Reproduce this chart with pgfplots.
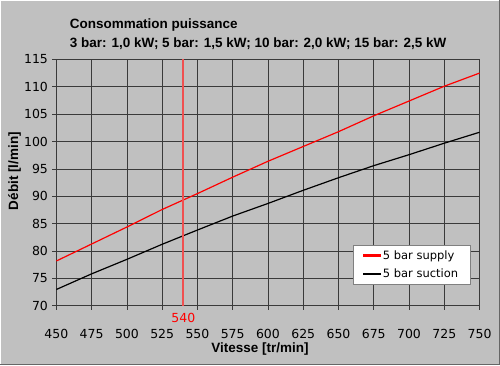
\documentclass[border=0pt]{standalone}
\usepackage{pgfplots}
\pgfplotsset{compat=1.18}
\usepackage{fontspec}
\setmainfont{DejaVu Sans}
\newfontfamily\arialfont{Liberation Sans}
\definecolor{bgc}{HTML}{C0C0C0}
\definecolor{gridc}{HTML}{3A3A3A}
\definecolor{vred}{HTML}{F05050}
\begin{document}
\begin{tikzpicture}[x=1bp,y=1bp]
\fill[bgc] (0,0) rectangle (500,365);
\draw[white,line width=1bp] (0.5,0) -- (0.5,364.5) -- (500,364.5);
\draw[gray!80!black,line width=1bp] (0,0.5) -- (499.5,0.5) -- (499.5,365);
\node[anchor=base west,font=\arialfont\bfseries\fontsize{13.5bp}{15bp}\selectfont] at (66,336.5) {Consommation puissance};
\node[anchor=base west,font=\arialfont\bfseries\fontsize{13.5bp}{15bp}\selectfont] at (66,317.5) {3 bar: 1,0 kW; 5 bar: 1,5 kW; 10 bar: 2,0 kW; 15 bar: 2,5 kW};
\node[rotate=90,font=\arialfont\bfseries\fontsize{13.5bp}{15bp}\selectfont] at (14,194) {Débit [l/min]};
\node[font=\arialfont\bfseries\fontsize{13.5bp}{15bp}\selectfont] at (260,16) {Vitesse [tr/min]};
\begin{axis}[
  at={(56bp,59bp)}, anchor=south west,
  scale only axis, width=424bp, height=247bp,
  xmin=450, xmax=750, ymin=70, ymax=115,
  clip=false,
  xtick={450,475,...,750}, ytick={70,75,...,115},
  grid=major,
  major grid style={gridc, line width=0.8bp},
  axis line style={gridc, line width=0.8bp},
  tick align=outside, tick pos=left,
  major tick length=4bp,
  tick style={gridc, line width=0.8bp},
  ticklabel style={font=\fontsize{12.5bp}{14bp}\selectfont},
  /pgf/number format/assume math mode=true,
  /pgf/number format/1000 sep={},
  xticklabel style={yshift=-16bp},
  yticklabel style={xshift=-1bp},
  legend style={at={(0.700,0.089)}, anchor=south west, fill=white, draw=gray,
    font=\fontsize{11.5bp}{13bp}\selectfont, inner xsep=10bp, inner ysep=3bp, row sep=4bp},
  legend cell align=left,
  legend image code/.code={\fill[#1] (0bp,-0.5bp) rectangle (17bp,0.5bp);},
]
\addplot[red, line width=1.2bp] coordinates {
(450,78.2) (475,81.3) (500,84.4) (525,87.6) (550,90.5) (575,93.5) (600,96.4)
(625,99.1) (650,101.8) (675,104.7) (700,107.4) (725,110.1) (750,112.5)};
\addlegendentry{5 bar supply}
\addplot[black, line width=1.2bp] coordinates {
(450,73.0) (475,75.85) (500,78.5) (525,81.25) (550,83.85) (575,86.4) (600,88.7)
(625,91.1) (650,93.4) (675,95.6) (700,97.6) (725,99.7) (750,101.7)};
\addlegendentry{5 bar suction}
\addplot[vred, line width=2bp, forget plot] coordinates {(540,70) (540,115)};
\node[anchor=north, text=red, font=\fontsize{12.5bp}{14bp}\selectfont, inner sep=0pt] at (axis cs:540,70) [yshift=-7bp] {540};
\end{axis}
\end{tikzpicture}
\end{document}
